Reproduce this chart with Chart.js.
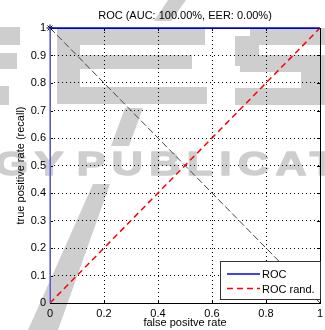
<!DOCTYPE html>
<html>
<head>
<meta charset="utf-8">
<script src="https://cdn.jsdelivr.net/npm/chart.js@4.4.1/dist/chart.umd.min.js"></script>
<style>
  html,body{margin:0;padding:0;background:#fff;}
  #wrap{width:325px;height:330px;position:relative;}
</style>
</head>
<body>
<div id="wrap"><canvas id="rocChart"></canvas></div>
<script>
/* ── DATA ───────────────────────────────────────────────── */
const rocFpr  = [0, 0, 1];
const rocTpr  = [0, 1, 1];
const randFpr = [0, 1];
const randTpr = [0, 1];
const eerFpr  = [0, 1];
const eerTpr  = [1, 0];
const eerMarkFpr = [0];
const eerMarkTpr = [1];
const xTickVals = [0, 0.2, 0.4, 0.6, 0.8, 1];
const yTickVals = [0, 0.1, 0.2, 0.3, 0.4, 0.5, 0.6, 0.7, 0.8, 0.9, 1];
const chartTitle = 'ROC (AUC: 100.00%, EER: 0.00%)';
const xLabel = 'false positve rate';
const yLabel = 'true positive rate (recall)';

const FONT = '"Liberation Sans", Arial, Helvetica, sans-serif';
const pts = (xs, ys) => xs.map((x, i) => ({x, y: ys[i]}));
const tickFmt = v => String(Math.round(v * 10) / 10);

/* ── WATERMARK (publisher stamp behind the plot) ─────────── */
const watermark = {
  id: 'watermark',
  beforeDraw(chart){
    const ctx = chart.ctx;
    const grey = 'rgb(206,206,206)';
    ctx.save();
    ctx.fillStyle = '#fff';
    ctx.fillRect(0, 0, chart.width, chart.height);
    ctx.fillStyle = grey;
    ctx.strokeStyle = grey;

    // block letters across the top (R / É / S fragments)
    const blocks = [
      [0,27,20,18], [0,53,17,16], [0,86,9,19],
      [57,28,148,17], [57,28,23,76], [57,55,135,14], [57,87,150,17],
      [250,28,75,17], [235,36,24,30], [240,55,85,17], [301,60,24,36], [235,88,90,17]
    ];
    blocks.forEach(([x, y, w, h]) => ctx.fillRect(x, y, w, h));

    // band of wide letters through the middle
    ctx.save();
    ctx.scale(1.3, 1);
    ctx.font = 'bold 33px ' + FONT;
    ctx.letterSpacing = '5px';
    ctx.lineWidth = 1.5;
    ctx.lineJoin = 'round';
    ['GY', 'PUBLICATIONS'].forEach((t, i) => {
      const x = i ? 59 : -4;
      ctx.fillText(t, x, 175);
      ctx.strokeText(t, x, 175);
    });
    ctx.restore();

    const poly = p => { ctx.beginPath(); p.forEach(([x, y], i) => i ? ctx.lineTo(x, y) : ctx.moveTo(x, y)); ctx.closePath(); ctx.fill(); };
    poly([[168,0],[186,0],[171,21],[154,21]]);
    poly([[125,108],[143,108],[129,146],[111,146]]);
    poly([[93,184],[110,184],[58,330],[28,330]]);
    ctx.restore();
  }
};

/* ── AXES BOX + INNER TICKS (under the lines) ─────────────── */
const matlabBox = {
  id: 'matlabBox',
  beforeDatasetsDraw(chart){
    const {ctx, chartArea: a, scales: {x, y}} = chart;
    ctx.save();
    ctx.strokeStyle = '#000';
    ctx.lineWidth = 1;
    ctx.beginPath();
    xTickVals.forEach(v => {
      const px = Math.round(x.getPixelForValue(v)) + 0.5;
      ctx.moveTo(px, a.bottom); ctx.lineTo(px, a.bottom - 3);
      ctx.moveTo(px, a.top);    ctx.lineTo(px, a.top + 3);
    });
    yTickVals.forEach(v => {
      const py = Math.round(y.getPixelForValue(v)) + 0.5;
      ctx.moveTo(a.left, py);  ctx.lineTo(a.left + 3, py);
      ctx.moveTo(a.right, py); ctx.lineTo(a.right - 3, py);
    });
    ctx.stroke();
    ctx.strokeRect(Math.round(a.left) + 0.5, Math.round(a.top) + 0.5, Math.round(a.right - a.left), Math.round(a.bottom - a.top));
    ctx.restore();
  }
};

/* ── TITLE + LEGEND (on top) ─────────────────────────────── */
const matlabLegend = {
  id: 'matlabLegend',
  afterDatasetsDraw(chart){
    const {ctx, chartArea: a} = chart;
    ctx.save();
    ctx.fillStyle = '#000';
    ctx.font = '11px ' + FONT;
    ctx.textAlign = 'center';
    ctx.textBaseline = 'middle';
    ctx.fillText(chartTitle, (a.left + a.right) / 2, 16);

    const entries = chart.data.datasets.filter(d => d.inLegend);
    const lw = 100, lh = 38;
    const lx = Math.round(a.right) - lw, ly = Math.round(a.bottom) - lh - 4;
    ctx.fillStyle = '#fff';
    ctx.fillRect(lx, ly, lw, lh);
    ctx.strokeStyle = '#333';
    ctx.lineWidth = 1;
    ctx.strokeRect(lx + 0.5, ly + 0.5, lw, lh);
    ctx.textAlign = 'left';
    entries.forEach((d, i) => {
      const ey = ly + 13 + i * 14.5;
      ctx.strokeStyle = d.borderColor;
      ctx.lineWidth = d.borderWidth;
      ctx.setLineDash(d.borderDash || []);
      ctx.beginPath(); ctx.moveTo(lx + 7, ey); ctx.lineTo(lx + 40, ey); ctx.stroke();
      ctx.setLineDash([]);
      ctx.fillStyle = '#000';
      ctx.fillText(d.label, lx + 42, ey + 1);
    });
    ctx.restore();
  }
};

/* ── CHART ───────────────────────────────────────────────── */
new Chart(document.getElementById('rocChart'), {
  type: 'scatter',
  data: {
    datasets: [
      { label:'ROC', inLegend:true, data:pts(rocFpr, rocTpr), showLine:true, borderColor:'#0000ff', borderWidth:1.5, pointRadius:0, clip:false,
        segment:{ borderColor: c => c.p0.parsed.x === c.p1.parsed.x ? '#7878ff' : '#0000ff' } },
      { label:'EER', data:pts(eerMarkFpr, eerMarkTpr), pointStyle:'star', pointRadius:3.5, borderColor:'#000', borderWidth:1, backgroundColor:'#000', clip:false },
      { label:'ROC rand.', inLegend:true, data:pts(randFpr, randTpr), showLine:true, borderColor:'#ff0000', borderWidth:1.5, borderDash:[6,4], pointRadius:0 },
      { label:'EER line', data:pts(eerFpr, eerTpr), showLine:true, borderColor:'#444', borderWidth:1, borderDash:[7,3], pointRadius:0 },
    ]
  },
  options: {
    responsive:true, maintainAspectRatio:false, animation:false,
    layout:{ padding:{ top:28, right:1, left:0, bottom:0 } },
    plugins:{ legend:{display:false}, tooltip:{enabled:false}, title:{display:false} },
    scales:{
      x:{
        type:'linear', min:0, max:1,
        afterBuildTicks: s => { s.ticks = xTickVals.map(v => ({value:v})); },
        afterFit: s => { s.height = 27; s.paddingLeft = 0; s.paddingRight = 0; },
        grid:{ color:'#000', lineWidth:1, drawTicks:false },
        border:{ display:false, dash:[1,3] },
        ticks:{ padding:4, color:'#000', font:{family:FONT, size:11}, maxRotation:0, autoSkip:false, callback:tickFmt },
        title:{ display:true, text:xLabel, color:'#000', font:{family:FONT, size:11}, padding:0 }
      },
      y:{
        type:'linear', min:0, max:1,
        afterBuildTicks: s => { s.ticks = yTickVals.map(v => ({value:v})); },
        afterFit: s => { s.width = 50; s.paddingTop = 0; s.paddingBottom = 0; },
        grid:{ color:'#000', lineWidth:1, drawTicks:false },
        border:{ display:false, dash:[1,3] },
        ticks:{ padding:4, color:'#000', font:{family:FONT, size:11}, autoSkip:false, callback:tickFmt },
        title:{ display:true, text:yLabel, color:'#000', font:{family:FONT, size:11}, padding:{top:14, bottom:0} }
      }
    }
  },
  plugins:[watermark, matlabBox, matlabLegend]
});
</script>
</body>
</html>
